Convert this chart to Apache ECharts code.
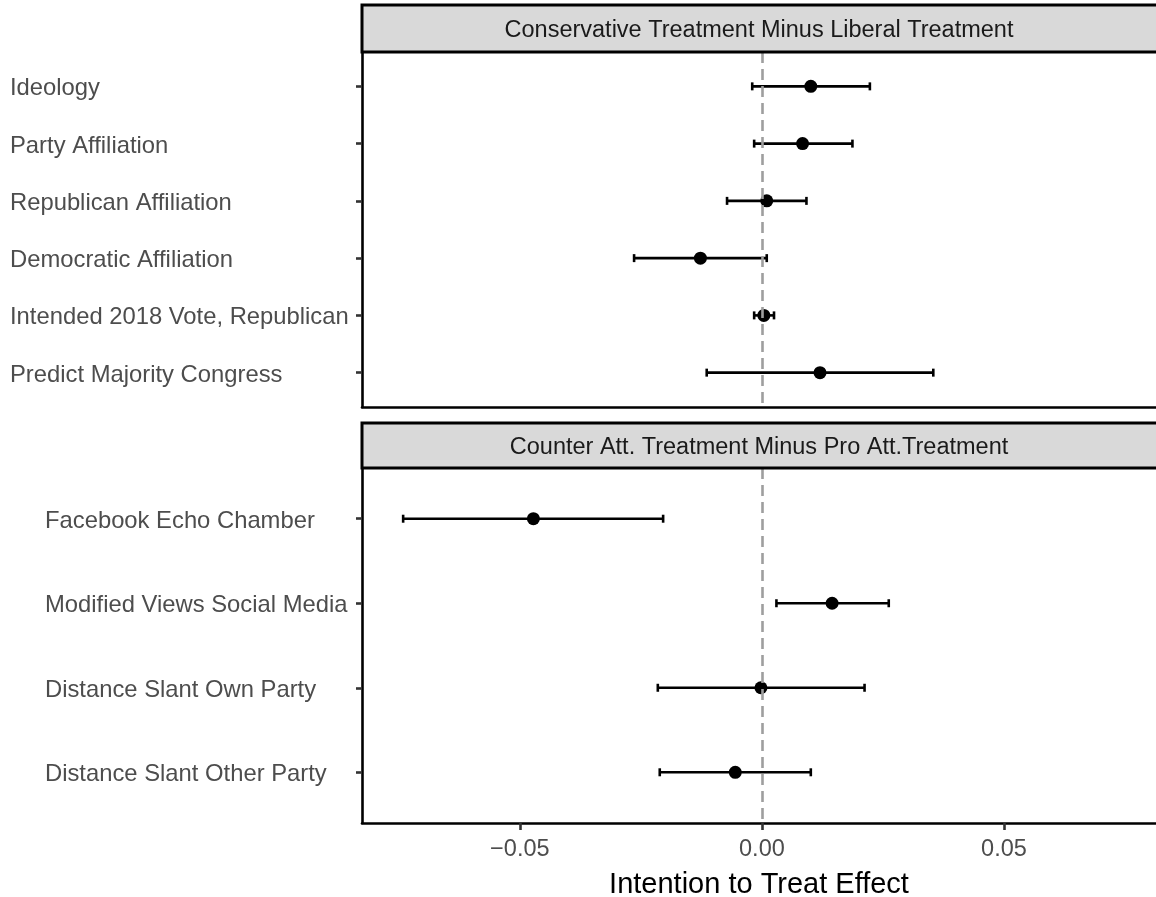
<!DOCTYPE html>
<html>
<head>
<meta charset="utf-8">
<script src="https://cdn.jsdelivr.net/npm/echarts@6/dist/echarts.min.js"></script>
<style>
html,body{margin:0;padding:0;background:#fff;}
#chart{width:1156px;height:897px;}
</style>
</head>
<body>
<div id="chart"></div>
<script>
// ---- data ----
const topTitle = 'Conservative Treatment Minus Liberal Treatment';
const topCats = ['Ideology', 'Party Affiliation', 'Republican Affiliation', 'Democratic Affiliation', 'Intended 2018 Vote, Republican', 'Predict Majority Congress'];
const topEst = [0.0101, 0.0084, 0.0010, -0.0127, 0.0004, 0.0120];
const topLo  = [-0.0020, -0.0016, -0.0072, -0.0264, -0.0016, -0.0114];
const topHi  = [0.0223, 0.0187, 0.0092, 0.0010, 0.0025, 0.0354];

const botTitle = 'Counter Att. Treatment Minus Pro Att.Treatment';
const botCats = ['Facebook Echo Chamber', 'Modified Views Social Media', 'Distance Slant Own Party', 'Distance Slant Other Party'];
const botEst = [-0.0472, 0.0145, -0.0002, -0.0055];
const botLo  = [-0.0741, 0.0030, -0.0215, -0.0211];
const botHi  = [-0.0204, 0.0262, 0.0212, 0.0101];

const xTicks = [-0.05, 0, 0.05];
const refLine = 0;
const xTitle = 'Intention to Treat Effect';

// ---- layout / style ----
const FONT = '"Liberation Sans", Arial, Helvetica, sans-serif';
const PANEL_L = 362;
const TOP_STRIP_Y = 5, STRIP_H = 47;
const TOP_PANEL_Y = 52, PANEL_H = 355;
const BOT_STRIP_Y = 423;
const BOT_PANEL_Y = 468;
const XMIN = -0.0826, XMAX = 0.0814;
const LW = 2.6;

const chart = echarts.init(document.getElementById('chart'));

function idxArr(n){ const a=[]; for(let i=0;i<n;i++) a.push(i); return a; }

function renderErr(params, api) {
  const lo = api.coord([api.value(0), api.value(2)]);
  const hi = api.coord([api.value(1), api.value(2)]);
  const h = 4;
  const st = {stroke: '#000', lineWidth: LW};
  return {type: 'group', children: [
    {type: 'line', shape: {x1: lo[0], y1: lo[1], x2: hi[0], y2: hi[1]}, style: st},
    {type: 'line', shape: {x1: lo[0], y1: lo[1] - h, x2: lo[0], y2: lo[1] + h}, style: st},
    {type: 'line', shape: {x1: hi[0], y1: hi[1] - h, x2: hi[0], y2: hi[1] + h}, style: st}
  ]};
}

function yAxisFor(gi, cats, margin) {
  const vals = idxArr(cats.length);
  return {
    type: 'value', gridIndex: gi, inverse: true,
    min: -0.6, max: cats.length - 1 + 0.6,
    position: 'left',
    splitLine: {show: false},
    axisLine: {show: true, onZero: false, lineStyle: {color: '#000', width: LW}},
    axisTick: {show: true, length: 6, customValues: vals, lineStyle: {color: '#333', width: LW}},
    axisLabel: {
      show: true, customValues: vals, align: 'left', margin: margin,
      fontFamily: FONT, fontSize: 23.8, color: '#4D4D4D',
      formatter: v => '{t|' + (cats[Math.round(v)] || '') + '}',
      rich: {t: {fontFamily: FONT, fontSize: 23.8, color: '#4D4D4D', padding: [5, 0, 0, 0]}}
    }
  };
}

function fmtTick(v) {
  if (Math.abs(v) < 1e-9) return '0.00';
  return (v < 0 ? '\u2212' : '') + Math.abs(v).toFixed(2);
}

const option = {
  animation: false,
  backgroundColor: '#fff',
  grid: [
    {left: PANEL_L, right: 0, top: TOP_PANEL_Y, height: PANEL_H, containLabel: false, outerBoundsMode: 'none'},
    {left: PANEL_L, right: 0, top: BOT_PANEL_Y, height: PANEL_H, containLabel: false, outerBoundsMode: 'none'}
  ],
  xAxis: [
    {
      type: 'value', gridIndex: 0, min: XMIN, max: XMAX, position: 'bottom',
      splitLine: {show: false},
      axisLine: {show: true, onZero: false, lineStyle: {color: '#000', width: LW}},
      axisTick: {show: false}, axisLabel: {show: false}
    },
    {
      type: 'value', gridIndex: 1, min: XMIN, max: XMAX, position: 'bottom',
      splitLine: {show: false},
      axisLine: {show: true, onZero: false, lineStyle: {color: '#000', width: LW}},
      axisTick: {show: true, length: 7, customValues: xTicks, lineStyle: {color: '#333', width: LW}},
      axisLabel: {
        show: true, customValues: xTicks, margin: 15,
        fontFamily: FONT, fontSize: 23.5, color: '#4D4D4D',
        formatter: fmtTick
      },
      name: xTitle, nameLocation: 'middle', nameGap: 47,
      nameTextStyle: {fontFamily: FONT, fontSize: 29, color: '#000'}
    }
  ],
  yAxis: [
    yAxisFor(0, topCats, PANEL_L - 10),
    yAxisFor(1, botCats, PANEL_L - 45)
  ],
  graphic: [
    {type: 'rect', shape: {x: PANEL_L, y: TOP_STRIP_Y, width: 820, height: STRIP_H},
     style: {fill: '#D9D9D9', stroke: '#000', lineWidth: 3}, z: 100},
    {type: 'text', x: 759, y: TOP_STRIP_Y + STRIP_H / 2 + 2,
     style: {text: topTitle, fontFamily: FONT, fontSize: 23.5, fill: '#1A1A1A', align: 'center', verticalAlign: 'middle'}, z: 101},
    {type: 'rect', shape: {x: PANEL_L, y: BOT_STRIP_Y, width: 820, height: STRIP_H - 2},
     style: {fill: '#D9D9D9', stroke: '#000', lineWidth: 3}, z: 100},
    {type: 'text', x: 759, y: BOT_STRIP_Y + (STRIP_H - 2) / 2 + 2,
     style: {text: botTitle, fontFamily: FONT, fontSize: 23.5, fill: '#1A1A1A', align: 'center', verticalAlign: 'middle'}, z: 101}
  ],
  series: [
    {type: 'custom', xAxisIndex: 0, yAxisIndex: 0, renderItem: renderErr,
     encode: {x: [0, 1], y: 2}, data: topLo.map((l, i) => [l, topHi[i], i]), z: 2},
    {type: 'scatter', xAxisIndex: 0, yAxisIndex: 0, symbolSize: 13,
     itemStyle: {color: '#000', opacity: 1}, data: topEst.map((e, i) => [e, i]), z: 3},
    {type: 'scatter', xAxisIndex: 0, yAxisIndex: 0, data: [], z: 5,
     markLine: {silent: true, symbol: 'none', label: {show: false},
       lineStyle: {color: '#9E9E9E', type: [11, 6], width: LW, opacity: 1},
       data: [{xAxis: refLine}]}},
    {type: 'custom', xAxisIndex: 1, yAxisIndex: 1, renderItem: renderErr,
     encode: {x: [0, 1], y: 2}, data: botLo.map((l, i) => [l, botHi[i], i]), z: 2},
    {type: 'scatter', xAxisIndex: 1, yAxisIndex: 1, symbolSize: 13,
     itemStyle: {color: '#000', opacity: 1}, data: botEst.map((e, i) => [e, i]), z: 3},
    {type: 'scatter', xAxisIndex: 1, yAxisIndex: 1, data: [], z: 5,
     markLine: {silent: true, symbol: 'none', label: {show: false},
       lineStyle: {color: '#9E9E9E', type: [11, 6], width: LW, opacity: 1},
       data: [{xAxis: refLine}]}}
  ]
};
chart.setOption(option);
</script>
</body>
</html>
